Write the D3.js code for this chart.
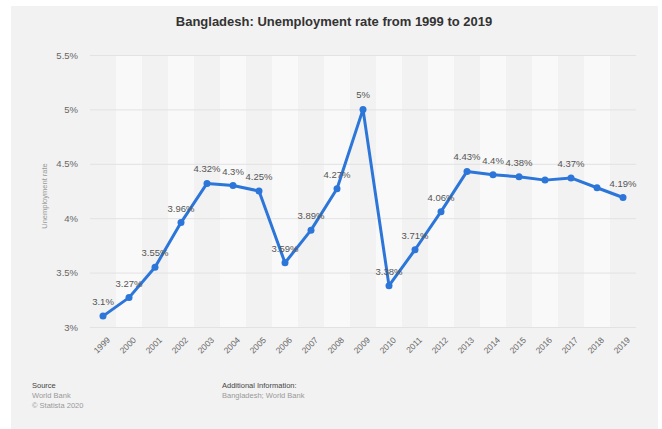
<!DOCTYPE html>
<html>
<head>
<meta charset="utf-8">
<script src="https://cdn.jsdelivr.net/npm/d3@7"></script>
<style>
  html, body { margin: 0; padding: 0; background: #ffffff; }
  svg { display: block; font-family: "Liberation Sans", Arial, Helvetica, sans-serif; }
</style>
</head>
<body>
<svg id="chart" width="662" height="429"></svg>
<script>
// Unemployment rate in Bangladesh, percent of labour force
const years = ["1999","2000","2001","2002","2003","2004","2005","2006","2007","2008","2009",
               "2010","2011","2012","2013","2014","2015","2016","2017","2018","2019"];
const rates = [3.1, 3.27, 3.55, 3.96, 4.32, 4.3, 4.25, 3.59, 3.89, 4.27, 5,
               3.38, 3.71, 4.06, 4.43, 4.4, 4.38, 4.35, 4.37, 4.28, 4.19];
// Years whose value is printed above the point
const labelledYears = ["1999","2000","2001","2002","2003","2004","2005","2006","2007","2008","2009",
                       "2010","2011","2012","2013","2014","2015","2017","2019"];
const yTicks = [3, 3.5, 4, 4.5, 5, 5.5];
const tickLabels = ["3%", "3.5%", "4%", "4.5%", "5%", "5.5%"];

const svg = d3.select("#chart");
const W = 662, H = 429;
const plot = { left: 90, right: 636, top: 55, bottom: 327 };

// Background panel
svg.append("rect").attr("x", 11).attr("y", 6).attr("width", 647).attr("height", H - 6)
  .attr("fill", "#f2f2f2");

const x = d3.scaleBand().domain(years).range([plot.left, plot.right]).padding(0);
const y = d3.scaleLinear().domain([3, 5.5]).range([plot.bottom, plot.top]);

// Alternating column stripes
svg.append("g").selectAll("rect")
  .data(years.filter((d, i) => i % 2 === 1))
  .join("rect")
  .attr("x", d => x(d)).attr("width", x.bandwidth())
  .attr("y", plot.top).attr("height", plot.bottom - plot.top)
  .attr("fill", "#f9f9f9");

// Horizontal gridlines and y labels
const yAxis = d3.axisLeft(y).tickValues(yTicks)
  .tickFormat((d, i) => tickLabels[i])
  .tickSize(-(plot.right - plot.left)).tickPadding(12);
const gy = svg.append("g").attr("transform", `translate(${plot.left},0)`).call(yAxis);
gy.select(".domain").remove();
gy.selectAll(".tick line").attr("stroke", "#e2e2e2").attr("stroke-width", 1);
gy.selectAll(".tick text").attr("fill", "#666").attr("font-size", 9.5);

// Year labels, rotated
const xAxis = d3.axisBottom(x).tickSize(0).tickPadding(0);
const gx = svg.append("g").attr("transform", `translate(0,${plot.bottom + 10})`).call(xAxis);
gx.select(".domain").remove();
gx.selectAll(".tick text")
  .attr("fill", "#666").attr("font-size", 8.5)
  .attr("text-anchor", "end")
  .attr("dy", "0.6em")
  .attr("transform", "translate(4,0) rotate(-45)");

// Y axis title
svg.append("text")
  .attr("transform", `translate(47,${(plot.top + plot.bottom) / 2 + 5}) rotate(-90)`)
  .attr("text-anchor", "middle").attr("font-size", 7.5).attr("fill", "#999")
  .text("Unemployment rate");

// Title
svg.append("text").attr("x", 334).attr("y", 26).attr("text-anchor", "middle")
  .attr("font-size", 13).attr("font-weight", "bold").attr("fill", "#333")
  .text("Bangladesh: Unemployment rate from 1999 to 2019");

// Line and markers
const cx = d => x(d) + x.bandwidth() / 2;
const pts = years.map((yr, i) => ({ yr, v: rates[i] }));
const line = d3.line().x(d => cx(d.yr)).y(d => y(d.v));
const blue = "#2c76d9";
svg.append("path").datum(pts).attr("d", line)
  .attr("fill", "none").attr("stroke", blue).attr("stroke-width", 3)
  .attr("stroke-linejoin", "round").attr("stroke-linecap", "round");
svg.append("g").selectAll("circle").data(pts).join("circle")
  .attr("cx", d => cx(d.yr)).attr("cy", d => y(d.v)).attr("r", 3.5).attr("fill", blue);

// Value labels
svg.append("g").selectAll("text")
  .data(pts.filter(d => labelledYears.includes(d.yr)))
  .join("text")
  .attr("x", d => cx(d.yr)).attr("y", d => y(d.v) - 11)
  .attr("text-anchor", "middle").attr("font-size", 9.5).attr("fill", "#555")
  .text(d => d.v + "%");

// Footer
const foot = svg.append("g").attr("font-size", 7.5);
foot.append("text").attr("x", 32).attr("y", 388).attr("fill", "#444").text("Source");
foot.append("text").attr("x", 32).attr("y", 398).attr("fill", "#999").text("World Bank");
foot.append("text").attr("x", 32).attr("y", 408).attr("fill", "#999").text("© Statista 2020");
foot.append("text").attr("x", 222).attr("y", 388).attr("fill", "#444").text("Additional Information:");
foot.append("text").attr("x", 222).attr("y", 398).attr("fill", "#999").text("Bangladesh; World Bank");
</script>
</body>
</html>
